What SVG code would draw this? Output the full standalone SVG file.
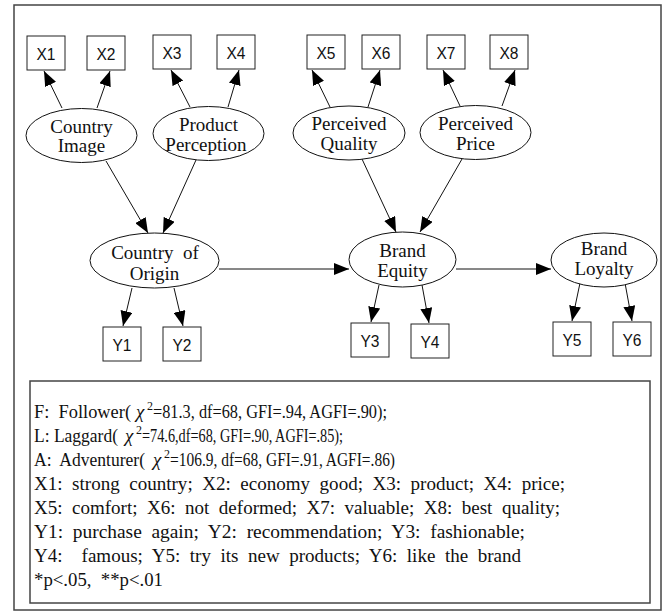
<svg xmlns="http://www.w3.org/2000/svg" width="665" height="611" viewBox="0 0 665 611">
<style>
.box{fill:#fff;stroke:#222;stroke-width:1}
.ell{fill:#fff;stroke:#111;stroke-width:1}
.bl{font-family:"Liberation Sans",Arial,sans-serif;font-size:17px;fill:#111;text-anchor:middle}
.el{font-family:"Liberation Serif","Times New Roman",serif;font-size:19px;fill:#111;text-anchor:middle}
.note{font-family:"Liberation Serif","Times New Roman",serif;font-size:19px;fill:#111;white-space:pre}
.chi{font-family:"Liberation Serif","Times New Roman",serif;font-size:19px;font-style:italic;fill:#111}
.sup{font-family:"Liberation Serif","Times New Roman",serif;font-size:12px;fill:#111}
.edge{stroke:#111;stroke-width:1;fill:none;marker-end:url(#ah)}
.frame{fill:#fff;stroke:#444;stroke-width:1.5}
</style>
<defs>
<marker id="ah" viewBox="0 0 15 12" markerWidth="15" markerHeight="12" refX="15" refY="6" orient="auto" markerUnits="userSpaceOnUse">
<path d="M0,0 L15,6 L0,12 z" fill="#000"/>
</marker>
</defs>
<rect class="frame" x="14" y="5" width="647" height="605"/>

<g id="connectors">
<line class="edge" x1="62" y1="108" x2="44" y2="71"/>
<line class="edge" x1="97" y1="108" x2="110" y2="71"/>
<line class="edge" x1="190" y1="107" x2="171" y2="70"/>
<line class="edge" x1="228" y1="107" x2="239" y2="70"/>
<line class="edge" x1="330" y1="107" x2="312" y2="70"/>
<line class="edge" x1="368" y1="107" x2="380" y2="70"/>
<line class="edge" x1="460" y1="106" x2="443" y2="70"/>
<line class="edge" x1="502" y1="106" x2="515" y2="70"/>
<line class="edge" x1="106" y1="161" x2="148" y2="233"/>
<line class="edge" x1="196" y1="160" x2="163" y2="233"/>
<line class="edge" x1="362" y1="159" x2="396" y2="232"/>
<line class="edge" x1="462" y1="159" x2="420" y2="232"/>
<line class="edge" x1="132" y1="288" x2="123" y2="326"/>
<line class="edge" x1="174" y1="288" x2="183" y2="326"/>
<line class="edge" x1="379" y1="285" x2="371" y2="322"/>
<line class="edge" x1="422" y1="285" x2="429" y2="323"/>
<line class="edge" x1="580" y1="283" x2="572" y2="321"/>
<line class="edge" x1="625" y1="283" x2="632" y2="321"/>
<line class="edge" x1="219" y1="269" x2="349" y2="269"/>
<line class="edge" x1="456" y1="269" x2="551" y2="269"/>
</g>

<g id="X1"><rect class="box" x="27" y="36" width="38" height="34"/><text class="bl" x="46" y="59.5" textLength="19" lengthAdjust="spacingAndGlyphs">X1</text></g>
<g id="X2"><rect class="box" x="87" y="36" width="38" height="34"/><text class="bl" x="106" y="59.5" textLength="19" lengthAdjust="spacingAndGlyphs">X2</text></g>
<g id="X3"><rect class="box" x="153" y="35" width="38" height="34"/><text class="bl" x="172" y="58.5" textLength="19" lengthAdjust="spacingAndGlyphs">X3</text></g>
<g id="X4"><rect class="box" x="217" y="35" width="38" height="34"/><text class="bl" x="236" y="58.5" textLength="19" lengthAdjust="spacingAndGlyphs">X4</text></g>
<g id="X5"><rect class="box" x="307" y="35" width="38" height="34"/><text class="bl" x="326" y="58.5" textLength="19" lengthAdjust="spacingAndGlyphs">X5</text></g>
<g id="X6"><rect class="box" x="362" y="35" width="38" height="34"/><text class="bl" x="381" y="58.5" textLength="19" lengthAdjust="spacingAndGlyphs">X6</text></g>
<g id="X7"><rect class="box" x="427" y="35" width="38" height="34"/><text class="bl" x="446" y="58.5" textLength="19" lengthAdjust="spacingAndGlyphs">X7</text></g>
<g id="X8"><rect class="box" x="490" y="35" width="38" height="34"/><text class="bl" x="509" y="58.5" textLength="19" lengthAdjust="spacingAndGlyphs">X8</text></g>

<g id="Y1"><rect class="box" x="103" y="327" width="38" height="34"/><text class="bl" x="122" y="350.5" textLength="19" lengthAdjust="spacingAndGlyphs">Y1</text></g>
<g id="Y2"><rect class="box" x="163" y="327" width="38" height="34"/><text class="bl" x="182" y="350.5" textLength="19" lengthAdjust="spacingAndGlyphs">Y2</text></g>
<g id="Y3"><rect class="box" x="351" y="323" width="38" height="34"/><text class="bl" x="370" y="346.5" textLength="19" lengthAdjust="spacingAndGlyphs">Y3</text></g>
<g id="Y4"><rect class="box" x="411" y="324" width="38" height="34"/><text class="bl" x="430" y="347.5" textLength="19" lengthAdjust="spacingAndGlyphs">Y4</text></g>
<g id="Y5"><rect class="box" x="553" y="322" width="38" height="34"/><text class="bl" x="572" y="345.5" textLength="19" lengthAdjust="spacingAndGlyphs">Y5</text></g>
<g id="Y6"><rect class="box" x="613" y="322" width="38" height="34"/><text class="bl" x="632" y="345.5" textLength="19" lengthAdjust="spacingAndGlyphs">Y6</text></g>

<g id="CountryImage"><ellipse class="ell" cx="81.5" cy="135.5" rx="55.5" ry="27"/><text class="el" x="81.5" y="133">Country</text><text class="el" x="81.5" y="152">Image</text></g>
<g id="ProductPerception"><ellipse class="ell" cx="208.5" cy="133.5" rx="55.5" ry="27"/><text class="el" x="208.5" y="131">Product</text><text class="el" x="206" y="151">Perception</text></g>
<g id="PerceivedQuality"><ellipse class="ell" cx="349" cy="133" rx="56" ry="27"/><text class="el" x="349" y="129.5">Perceived</text><text class="el" x="349" y="150">Quality</text></g>
<g id="PerceivedPrice"><ellipse class="ell" cx="475.5" cy="132.5" rx="55.5" ry="27"/><text class="el" x="475.5" y="129.5">Perceived</text><text class="el" x="475.5" y="150">Price</text></g>
<g id="CountryOfOrigin"><ellipse class="ell" cx="154.5" cy="260.5" rx="64.5" ry="27.5"/><text class="el" x="155" y="259" style="white-space:pre">Country  of</text><text class="el" x="154.5" y="280">Origin</text></g>
<g id="BrandEquity"><ellipse class="ell" cx="402.5" cy="259.5" rx="53.5" ry="27.5"/><text class="el" x="402.5" y="257">Brand</text><text class="el" x="402.5" y="277">Equity</text></g>
<g id="BrandLoyalty"><ellipse class="ell" cx="604" cy="260" rx="53" ry="27"/><text class="el" x="604" y="255">Brand</text><text class="el" x="604" y="275">Loyalty</text></g>

<g id="legend">
<rect class="frame" x="30" y="381" width="620" height="222"/>
<text class="note" x="34" y="418" textLength="97" lengthAdjust="spacingAndGlyphs">F:  Follower(</text>
<text class="chi" x="136" y="418">χ</text>
<text class="sup" x="147" y="410">2</text>
<text class="note" x="153" y="418" textLength="234" lengthAdjust="spacingAndGlyphs">=81.3, df=68, GFI=.94, AGFI=.90);</text>
<text class="note" x="34" y="442" textLength="84" lengthAdjust="spacingAndGlyphs">L: Laggard(</text>
<text class="chi" x="125" y="442">χ</text>
<text class="sup" x="136" y="434">2</text>
<text class="note" x="142" y="442" textLength="201" lengthAdjust="spacingAndGlyphs">=74.6,df=68, GFI=.90, AGFI=.85);</text>
<text class="note" x="34" y="466" textLength="111" lengthAdjust="spacingAndGlyphs">A:  Adventurer(</text>
<text class="chi" x="153" y="466">χ</text>
<text class="sup" x="164" y="458">2</text>
<text class="note" x="170" y="466" textLength="225" lengthAdjust="spacingAndGlyphs">=106.9, df=68, GFI=.91, AGFI=.86)</text>
<text class="note" x="34" y="490" textLength="531" lengthAdjust="spacingAndGlyphs">X1:  strong  country;  X2:  economy  good;  X3:  product;  X4:  price;</text>
<text class="note" x="34" y="514" textLength="526" lengthAdjust="spacingAndGlyphs">X5:  comfort;  X6:  not  deformed;  X7:  valuable;  X8:  best  quality;</text>
<text class="note" x="34" y="538" textLength="491" lengthAdjust="spacingAndGlyphs">Y1:  purchase  again;  Y2:  recommendation;  Y3:  fashionable;</text>
<text class="note" x="34" y="562" textLength="487" lengthAdjust="spacingAndGlyphs">Y4:    famous;  Y5:  try  its  new  products;  Y6:  like  the  brand</text>
<text class="note" x="34" y="586" textLength="129" lengthAdjust="spacingAndGlyphs">*p&lt;.05,  **p&lt;.01</text>
</g>
</svg>
